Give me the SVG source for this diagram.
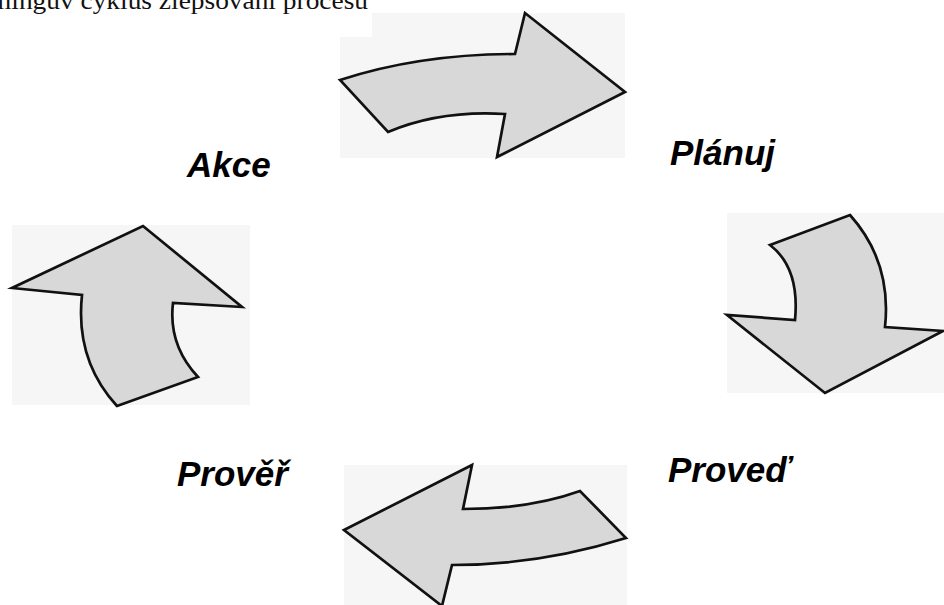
<svg xmlns="http://www.w3.org/2000/svg" width="944" height="605" viewBox="0 0 944 605">
  <style>
    .paper { fill: #f6f6f6; }
    .arrow { fill: #d8d8d8; stroke: #111; stroke-width: 2.7; stroke-linejoin: miter; }
    .label { font-family: "Liberation Sans", Arial, sans-serif; font-weight: bold; font-style: italic; font-size: 35px; fill: #000; }
    .title { font-family: "Liberation Serif", "Times New Roman", serif; font-size: 25px; fill: #111; }
  </style>
  <rect width="944" height="605" fill="#ffffff"/>

  <!-- heading line, clipped at the page edge -->
  <text class="title" x="-10" y="9" textLength="378" lengthAdjust="spacingAndGlyphs">mingův cyklus zlepšování procesu</text>

  <!-- Plan -> Do (top) -->
  <g id="arrow-top">
    <path class="paper" d="M340 37 H372 V13 H625 V158 H340 Z"/>
    <path class="arrow" d="M340 80 Q420 54 515 54 L525 13 L625 92 L497 157 L505 114 Q440 110 388 132 Z"/>
  </g>

  <!-- Do -> Check (right) -->
  <g id="arrow-right">
    <rect class="paper" x="727" y="213" width="217" height="180"/>
    <path class="arrow" d="M770 245 L850 215 Q892 262 885 327 L943 331 L825 393 L727 315 L795 320 Q800 268 770 245 Z"/>
  </g>

  <!-- Check -> Act (bottom) -->
  <g id="arrow-bottom">
    <rect class="paper" x="344" y="465" width="283" height="140"/>
    <path class="arrow" d="M472 465 L463 509 Q530 509 580 491 L626 538 Q540 565 452 565 L442 606 L344 530 Z"/>
  </g>

  <!-- Act -> Plan (left) -->
  <g id="arrow-left">
    <rect class="paper" x="12" y="225" width="238" height="180"/>
    <path class="arrow" d="M117 406 L198 377 Q168 345 173 303 L242 307 L143 226 L12 288 L82 295 Q75 360 117 406 Z"/>
  </g>

  <g id="label-akce"><text class="label" x="187" y="177">Akce</text></g>
  <g id="label-planuj"><text class="label" x="670" y="165">Plánuj</text></g>
  <g id="label-proved"><text class="label" x="668" y="482">Proveď</text></g>
  <g id="label-prover"><text class="label" x="177" y="486">Prověř</text></g>
</svg>
